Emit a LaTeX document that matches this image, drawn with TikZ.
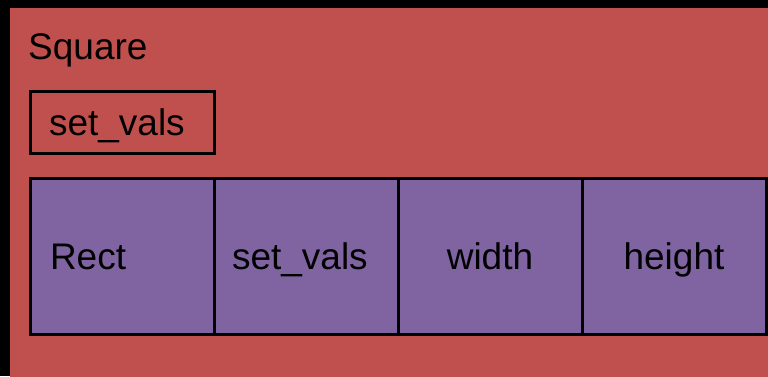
\documentclass[tikz,border=0pt]{standalone}
\usepackage{fontspec}
\setmainfont{Liberation Sans}
\definecolor{boxred}{HTML}{C0504D}
\definecolor{cellpurple}{HTML}{8064A2}
\begin{document}
\begin{tikzpicture}[x=1pt,y=-1pt,
  lbl/.style={font=\fontsize{37}{44}\selectfont, text=black},
  cellbox/.style={draw=black, line width=3pt, fill=cellpurple, minimum width=184pt, minimum height=156pt, outer sep=0pt, inner sep=0pt, text height=27pt, text depth=0pt, lbl},
  leftcell/.style={cellbox, text width=148pt, inner xsep=18pt, align=left},
  methbox/.style={draw=black, line width=3pt, minimum width=184pt, minimum height=62pt, outer sep=0pt, lbl, text width=146pt, inner xsep=19pt, inner ysep=0pt, text height=27pt, text depth=0pt, align=left}]
\useasboundingbox (0,0) rectangle (768,376);
\fill[black] (0,0) rectangle (768,376);
\fill[boxred] (10,8) rectangle (772,380);
\node[lbl, anchor=base west, inner sep=0pt] (sq) at (28,59) {Square};
\node[methbox] (sv) at (122,122) {set\_vals};
\node[leftcell, inner xsep=20pt, text width=144pt] (rect) at (122,256) {Rect};
\node[leftcell] (rsv) at (306,256) {set\_vals};
\node[cellbox] (w) at (490,256) {width};
\node[cellbox] (h) at (674,256) {height};
\end{tikzpicture}
\end{document}
